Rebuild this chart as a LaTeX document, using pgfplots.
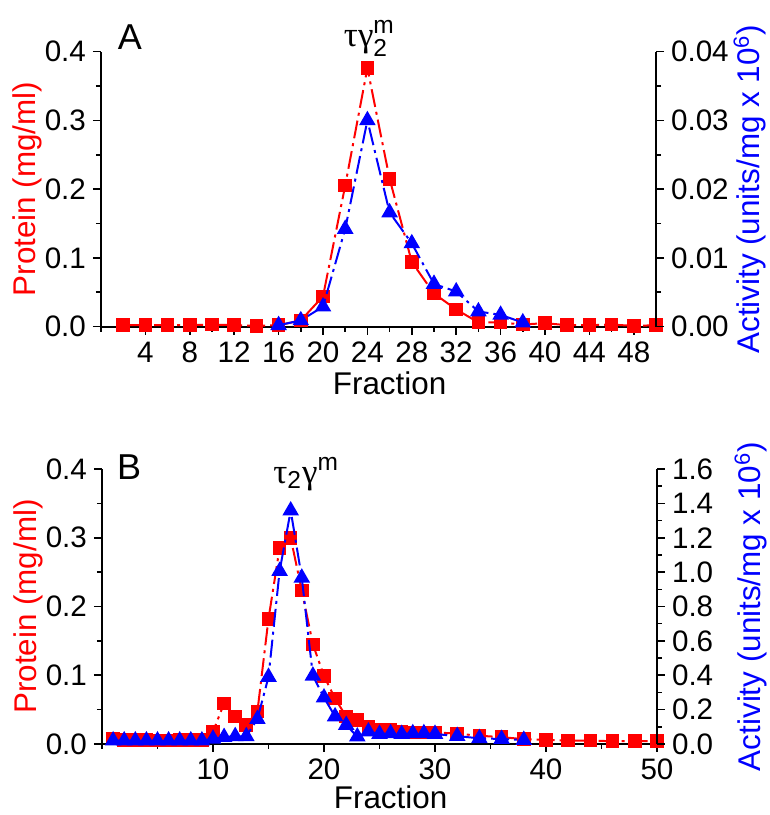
\documentclass[border=0pt]{standalone}
\usepackage{pgfplots}
\pgfplotsset{compat=1.18}
\usepackage{fontspec}
\usepackage{amsmath}
\setmainfont{Liberation Sans}
\newfontfamily\greekfont{Liberation Serif}

\pgfplotsset{
  panel/.style={
    scale only axis, width=277.5pt, height=137.5pt,
    xmin=0, xmax=50, clip=false,
    tick align=outside,
    major tick length=4pt, minor tick length=2.5pt,
    every tick/.style={black, line width=0.8pt},
    axis line style={line width=1pt},
    tick label style={font=\fontsize{14.8}{16}\selectfont},
    label style={font=\fontsize{15.7}{18}\selectfont},
    /pgf/number format/assume math mode=true,
    scaled ticks=false,
  },
  leftax/.style={panel,
    axis x line*=bottom, axis y line*=left,
    ymin=0, ymax=0.4,
    ytick={0,0.1,0.2,0.3,0.4}, minor ytick={0.05,0.15,0.25,0.35},
    yticklabel style={/pgf/number format/.cd, fixed, fixed zerofill, precision=1},
    ylabel={Protein (mg/ml)},
    ylabel style={red, at={(axis description cs:-0.133,0.5)}, anchor=center},
    xlabel={Fraction},
    xlabel style={at={(axis description cs:0.52,-0.205)}, anchor=center},
  },
  rightax/.style={panel,
    axis x line=none, axis y line*=right,
    ylabel={Activity (units/mg x 10\textsuperscript{6})},
    ylabel style={blue, at={(axis description cs:1.169,0.5)}, anchor=center},
  },
  redline/.style={red, line width=1pt, dash pattern=on 9pt off 2.5pt on 1.5pt off 2.5pt,
    mark=square*, mark size=2.9pt, mark options={solid, fill=red}},
  blueline/.style={blue, line width=1pt, dash pattern=on 9pt off 2.5pt on 1.5pt off 2.5pt,
    mark=triangle*, mark size=3.8pt, mark options={solid, fill=blue}},
}

\begin{document}
\begin{tikzpicture}
\path[use as bounding box] (0,0) rectangle (385pt,407.5pt);

% ---------- Panel A ----------
\begin{axis}[leftax, at={(50.5pt,244.2pt)}, anchor=south west,
    xtick={4,8,...,48}, minor xtick={0,2,...,50}]
  \addplot[redline] coordinates {
    (2,0.002) (4,0.002) (6,0.002) (8,0.002) (10,0.003) (12,0.002) (14,0.001)
    (16,0.002) (18,0.009) (20,0.044) (22,0.205) (24,0.376) (26,0.215) (28,0.094)
    (30,0.048) (32,0.025) (34,0.006) (36,0.006) (38,0.003) (40,0.005) (42,0.002)
    (44,0.002) (46,0.003) (48,0.001) (50,0.002)
  };
  \node[font=\fontsize{18}{20}\selectfont] at (rel axis cs:0.052,1.051) {A};
  \node[anchor=base west, font=\fontsize{17.5}{20}\selectfont] at (rel axis cs:0.425,1.02)
    {{\greekfont τγ}$_{\text{2}}^{\text{m}}$};
\end{axis}
\begin{axis}[rightax, at={(50.5pt,244.2pt)}, anchor=south west,
    ymin=0, ymax=0.04,
    ytick={0,0.01,0.02,0.03,0.04}, minor ytick={0.005,0.015,0.025,0.035},
    yticklabel style={/pgf/number format/.cd, fixed, fixed zerofill, precision=2}]
  \addplot[blueline] coordinates {
    (16,0.0002) (18,0.0009) (20,0.0029) (22,0.0142) (24,0.0300) (26,0.0166)
    (28,0.0121) (30,0.0062) (32,0.0051) (34,0.0022) (36,0.0017) (38,0.0006)
  };
\end{axis}

% ---------- Panel B ----------
\begin{axis}[leftax, at={(51pt,35.5pt)}, anchor=south west,
    xtick={10,20,30,40,50}, minor xtick={0,5,...,45},
    xlabel style={at={(axis description cs:0.52,-0.192)}, anchor=center}]
  \addplot[redline] coordinates {
    (1,0.008) (2,0.006) (3,0.006) (4,0.006) (5,0.005) (6,0.005) (7,0.006)
    (8,0.006) (9,0.006) (10,0.018) (11,0.059) (12,0.040) (13,0.028) (14,0.047)
    (15,0.182) (16,0.285) (17,0.300) (18,0.223) (19,0.145) (20,0.099) (21,0.066)
    (22,0.040) (23,0.035) (24,0.025) (25,0.020) (26,0.021) (27,0.018) (28,0.017)
    (29,0.017) (30,0.017) (32,0.015) (34,0.012) (36,0.010) (38,0.007) (40,0.006)
    (42,0.005) (44,0.005) (46,0.004) (48,0.004) (50,0.004)
  };
  \node[font=\fontsize{18}{20}\selectfont] at (rel axis cs:0.049,1.007) {B};
  \node[anchor=base west, font=\fontsize{17.5}{20}\selectfont] at (axis cs:14.8,0.3795)
    {{\greekfont τ}$_{\text{2}}${\greekfont γ}$^{\text{m}}$};
\end{axis}
\begin{axis}[rightax, at={(51pt,35.5pt)}, anchor=south west,
    ymin=0, ymax=1.6,
    ytick={0,0.2,0.4,0.6,0.8,1.0,1.2,1.4,1.6},
    minor ytick={0.1,0.3,0.5,0.7,0.9,1.1,1.3,1.5},
    yticklabel style={/pgf/number format/.cd, fixed, fixed zerofill, precision=1}]
  \addplot[blueline] coordinates {
    (1,0.02) (2,0.02) (3,0.02) (4,0.02) (5,0.02) (6,0.02) (7,0.02) (8,0.02)
    (9,0.02) (10,0.03) (11,0.04) (12,0.045) (13,0.045) (14,0.145) (15,0.39)
    (16,1.006) (17,1.358) (18,0.967) (19,0.397) (20,0.27) (21,0.16) (22,0.11)
    (23,0.043) (24,0.072) (25,0.058) (26,0.062) (27,0.058) (28,0.062) (29,0.062)
    (30,0.058) (32,0.046) (34,0.033) (36,0.029) (38,0.023)
  };
\end{axis}
\end{tikzpicture}
\end{document}
